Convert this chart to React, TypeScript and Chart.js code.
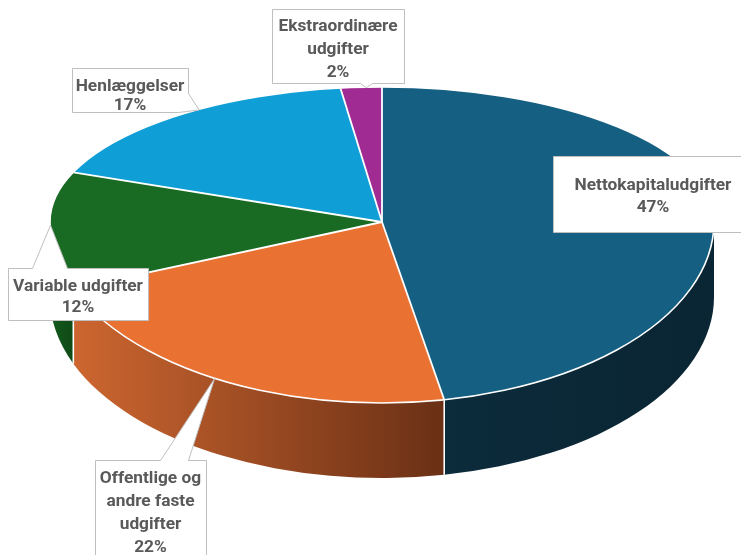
import React, { useEffect, useRef } from "react";
import { Chart, registerables } from "chart.js";

Chart.register(...registerables);

// ---------- data ----------
const categories = [
  "Nettokapitaludgifter",
  "Offentlige og andre faste udgifter",
  "Variable udgifter",
  "Henlæggelser",
  "Ekstraordinære udgifter",
];
const values = [47, 22, 12, 17, 2];
const categoryLines = [
  ["Nettokapitaludgifter"],
  ["Offentlige og", "andre faste", "udgifter"],
  ["Variable udgifter"],
  ["Henlæggelser"],
  ["Ekstraordinære", "udgifter"],
];

// ---------- styles / layout ----------
const topColors = ["#156082", "#E97132", "#196B24", "#0F9ED5", "#A02B93"];
const wallColors = [
  ["#0c2b3b", "#0a2533"],
  ["#cd6630", "#6a3015"],
  ["#135a1c", "#0f4a17"],
  ["#0b6f97", "#095a7a"],
  ["#7a1f70", "#5d1756"],
];

const W = 741;
const H = 555;
const CX = 382;
const CY = 222;
const RX = 332;
const RY_TOP = 135; // far half (perspective)
const RY_BOT = 181; // near half
const DEPTH = 75;

type Box = {
  x: number; y: number; w: number; h: number;
  wedge: [number, number] | null; frac: number;
  ty: number; lh: number;
};
const labelBoxes: Box[] = [
  { x: 553, y: 156, w: 200, h: 76, wedge: null, frac: 0.5, ty: 184, lh: 22 },
  { x: 95, y: 460, w: 111, h: 110, wedge: [65, 93], frac: 0.52, ty: 477, lh: 23 },
  { x: 8, y: 268, w: 140, h: 52, wedge: [24, 59], frac: 0.48, ty: 284.5, lh: 21.3 },
  { x: 72, y: 68, w: 116, h: 44, wedge: [141, 170], frac: 0.57, ty: 84.5, lh: 18.8 },
  { x: 272, y: 9, w: 132, h: 74, wedge: [238, 250], frac: 0.61, ty: 25, lh: 22.75 },
];

function ept(a: number, dy = 0): [number, number] {
  const s = Math.sin(a);
  const ry = s >= 0 ? RY_BOT : RY_TOP;
  return [CX + RX * Math.cos(a), CY + ry * s + dy];
}

function perim(b: Box, s: number): [number, number] {
  const { x, y, w, h } = b;
  if (s <= w) return [x + s, y];
  if (s <= w + h) return [x + w, y + (s - w)];
  if (s <= 2 * w + h) return [x + w - (s - w - h), y + h];
  return [x, y + h - (s - 2 * w - h)];
}

function calloutPath(ctx: CanvasRenderingContext2D, b: Box, tip: [number, number]) {
  const total = 2 * b.w + 2 * b.h;
  const corners = [b.w, b.w + b.h, 2 * b.w + b.h, total];
  ctx.beginPath();
  ctx.moveTo(b.x, b.y);
  let done = !b.wedge;
  for (const c of corners) {
    if (!done && b.wedge && b.wedge[0] < c) {
      const p1 = perim(b, b.wedge[0]);
      const p2 = perim(b, b.wedge[1]);
      ctx.lineTo(p1[0], p1[1]);
      ctx.lineTo(tip[0], tip[1]);
      ctx.lineTo(p2[0], p2[1]);
      done = true;
      if (c <= b.wedge[1]) continue;
    }
    if (c < total) {
      const p = perim(b, c);
      ctx.lineTo(p[0], p[1]);
    }
  }
  ctx.closePath();
}

function applyFace(ctx: CanvasRenderingContext2D, arc: any, ry: number) {
  const r = arc.outerRadius;
  ctx.translate(CX, CY);
  ctx.scale(RX / r, ry / r);
  ctx.translate(-arc.x, -arc.y);
}

const pie3d = {
  id: "pie3d",
  beforeDatasetsDraw(chart: any) {
    const ctx: CanvasRenderingContext2D = chart.ctx;
    const arcs = chart.getDatasetMeta(0).data as any[];
    if (!arcs.length) return;
    // walls (front half only)
    arcs.forEach((arc, i) => {
      const s = Math.max(arc.startAngle, 0);
      const e = Math.min(arc.endAngle, Math.PI);
      if (e <= s) return;
      const [x0] = ept(s);
      const [x1] = ept(e);
      const g = ctx.createLinearGradient(Math.min(x0, x1), 0, Math.max(x0, x1), 0);
      g.addColorStop(0, wallColors[i][0]);
      g.addColorStop(1, wallColors[i][1]);
      ctx.save();
      ctx.beginPath();
      ctx.ellipse(CX, CY, RX, RY_BOT, 0, s, e, false);
      const pb = ept(e, DEPTH);
      ctx.lineTo(pb[0], pb[1]);
      ctx.ellipse(CX, CY + DEPTH, RX, RY_BOT, 0, e, s, true);
      ctx.closePath();
      ctx.fillStyle = g;
      ctx.fill();
      ctx.restore();
    });
    // vertical separators on walls
    ctx.save();
    ctx.strokeStyle = "#ffffff";
    ctx.lineWidth = 1.6;
    arcs.forEach((arc) => {
      const a = arc.endAngle;
      if (a > 0.02 && a < Math.PI - 0.02) {
        const p = ept(a);
        const q = ept(a, DEPTH);
        ctx.beginPath();
        ctx.moveTo(p[0], p[1]);
        ctx.lineTo(q[0], q[1]);
        ctx.stroke();
      }
    });
    ctx.restore();
    // far half of the top face: library arcs drawn with a squashed transform
    ctx.save();
    ctx.beginPath();
    ctx.rect(0, 0, W, CY);
    ctx.clip();
    applyFace(ctx, arcs[0], RY_TOP);
  },
  afterDatasetsDraw(chart: any) {
    const ctx: CanvasRenderingContext2D = chart.ctx;
    ctx.restore();
    const arcs = chart.getDatasetMeta(0).data as any[];
    // near half of the top face
    ctx.save();
    ctx.beginPath();
    ctx.rect(0, CY, W, H - CY);
    ctx.clip();
    applyFace(ctx, arcs[0], RY_BOT);
    arcs.forEach((arc) => arc.draw(ctx));
    ctx.restore();
    // white separators and rim
    ctx.save();
    ctx.strokeStyle = "#ffffff";
    ctx.lineWidth = 1.8;
    arcs.forEach((arc) => {
      const p = ept(arc.startAngle);
      ctx.beginPath();
      ctx.moveTo(CX, CY);
      ctx.lineTo(p[0], p[1]);
      ctx.stroke();
    });
    ctx.lineWidth = 1.6;
    ctx.beginPath();
    ctx.ellipse(CX, CY, RX, RY_BOT, 0, 0, Math.PI);
    ctx.stroke();
    ctx.beginPath();
    ctx.ellipse(CX, CY, RX, RY_TOP, 0, Math.PI, Math.PI * 2);
    ctx.stroke();
    ctx.restore();
  },
  afterDraw(chart: any) {
    const ctx: CanvasRenderingContext2D = chart.ctx;
    const arcs = chart.getDatasetMeta(0).data as any[];
    const total = values.reduce((s, v) => s + v, 0);
    ctx.save();
    ctx.font = "bold 16px Roboto, 'Open Sans', sans-serif";
    const m = ctx.measureText("Nettokapitaludgifter").width || 157;
    const fs = Math.max(13, Math.min(18, (16 * 157) / m));
    labelBoxes.forEach((b, i) => {
      const arc = arcs[i];
      const am = arc.startAngle + b.frac * (arc.endAngle - arc.startAngle);
      const tip = ept(am);
      ctx.save();
      ctx.translate(0.5, 0.5);
      calloutPath(ctx, b, tip);
      ctx.fillStyle = "#ffffff";
      ctx.fill();
      ctx.strokeStyle = "#bfbfbf";
      ctx.lineWidth = 1;
      ctx.stroke();
      ctx.restore();
      const lines = [...categoryLines[i], Math.round((values[i] / total) * 100) + "%"];
      ctx.fillStyle = "#595959";
      ctx.font = `bold ${fs.toFixed(2)}px Roboto, 'Open Sans', sans-serif`;
      ctx.textAlign = "center";
      ctx.textBaseline = "alphabetic";
      const cx = b.x + b.w / 2;
      lines.forEach((t, k) => {
        ctx.fillText(t, cx, b.ty + k * b.lh + fs * 0.36);
      });
    });
    ctx.restore();
  },
};

export default function App() {
  const ref = useRef<HTMLCanvasElement | null>(null);
  useEffect(() => {
    const canvas = ref.current;
    if (!canvas) return;
    const chart = new Chart(canvas, {
      type: "pie",
      data: {
        labels: categories,
        datasets: [
          {
            data: values,
            backgroundColor: topColors,
            borderWidth: 0,
          },
        ],
      },
      options: {
        responsive: false,
        maintainAspectRatio: false,
        animation: false,
        devicePixelRatio: 1,
        events: [],
        layout: { padding: 0 },
        plugins: {
          legend: { display: false },
          tooltip: { enabled: false },
        },
      },
      plugins: [pie3d as any],
    });
    return () => chart.destroy();
  }, []);
  return (
    <div style={{ position: "absolute", left: 0, top: 0, width: W, height: H, background: "#ffffff" }}>
      <canvas ref={ref} width={W} height={H} style={{ display: "block", width: W, height: H }} />
    </div>
  );
}
